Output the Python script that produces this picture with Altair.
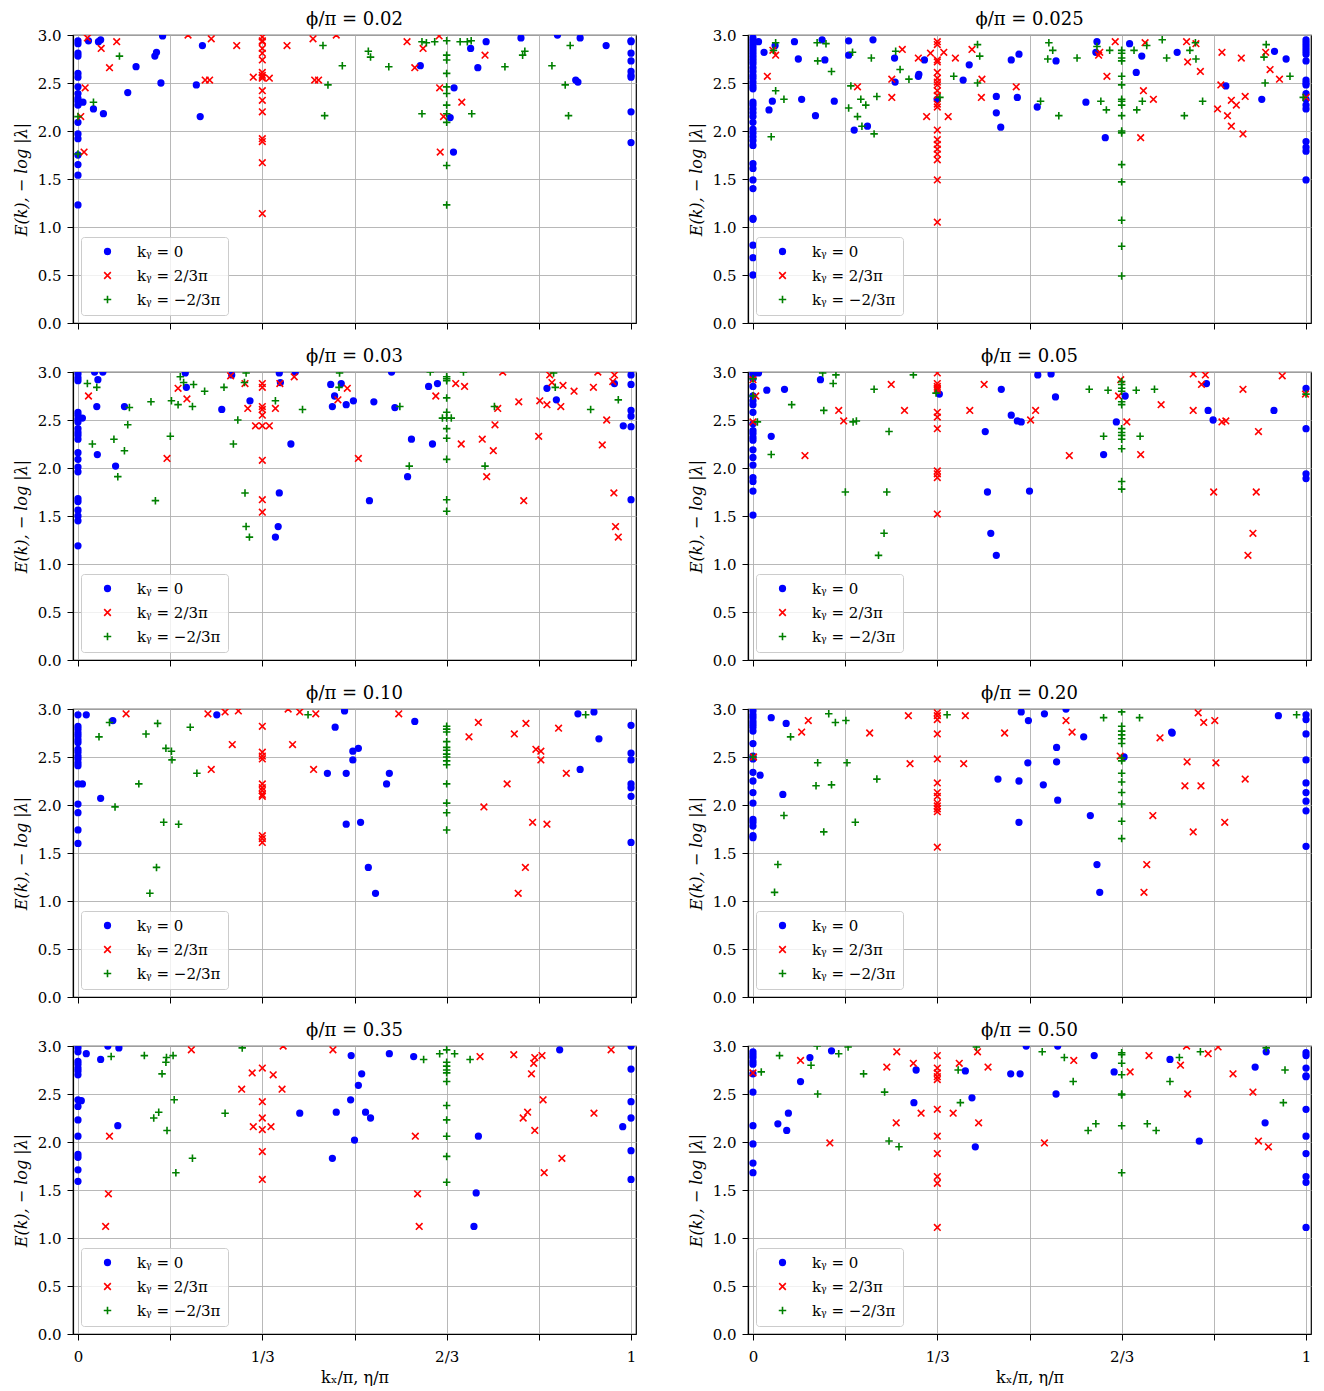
import altair as alt
import pandas as pd

BLUE, RED, GREEN = "#0000ff", "#ff0000", "#008000"
SERIES = ["kᵧ = 0", "kᵧ = 2/3π", "kᵧ = −2/3π"]
X_PATH = "M-1,-1L1,1M-1,1L1,-1"
PLUS_PATH = "M-1,0L1,0M0,-1L0,1"
XTICKS = [0, 1/6, 1/3, 1/2, 2/3, 5/6, 1]
YTICKS = [0, 0.5, 1.0, 1.5, 2.0, 2.5, 3.0]
T = 1/3
TT = 2/3
TITLES = ["ϕ/π = 0.02", "ϕ/π = 0.025", "ϕ/π = 0.03", "ϕ/π = 0.05",
          "ϕ/π = 0.10", "ϕ/π = 0.20", "ϕ/π = 0.35", "ϕ/π = 0.50"]

# ---------------- phi/pi = 0.02 ----------------
P1_B = [(0, 2.94), (0, 2.91), (0, 2.81), (0, 2.78), (0, 2.60), (0, 2.56), (0, 2.46), (0, 2.39), (0, 2.34),
        (0, 2.31), (0, 2.27), (0, 2.09), (0, 1.97), (0, 1.92), (0, 1.75), (0, 1.65), (0, 1.54), (0, 1.23),
        (0.019, 2.94), (0.041, 2.95), (0.037, 2.93), (0.153, 2.99), (0.139, 2.78), (0.142, 2.82), (0.105, 2.67),
        (0.150, 2.50), (0.090, 2.40), (0.009, 2.30), (0.028, 2.23), (0.046, 2.18), (0.225, 2.89), (0.214, 2.48),
        (0.221, 2.15), (0.619, 2.68), (0.680, 2.45), (0.673, 2.14), (0.679, 1.78), (0.710, 2.86), (0.738, 2.93),
        (0.723, 2.66), (0.801, 2.97), (0.867, 3.0), (0.908, 2.97), (0.955, 2.89), (0.900, 2.53), (0.904, 2.51),
        (1, 2.94), (1, 2.93), (1, 2.81), (1, 2.73), (1, 2.62), (1, 2.58), (1, 2.56), (1, 2.20), (1, 1.88)]
P1_R = [(0.017, 2.97), (0.070, 2.93), (0.042, 2.86), (0.057, 2.66), (0.013, 2.45), (0.005, 2.15), (0.011, 1.78),
        (0.199, 3.0), (0.241, 2.96), (0.287, 2.89), (0.230, 2.53), (0.238, 2.53), (0.378, 2.89), (0.425, 2.96),
        (0.467, 3.0), (0.428, 2.53), (0.435, 2.53),
        (T, 2.98), (T, 2.94), (T, 2.93), (T, 2.86), (T, 2.81), (T, 2.74), (T, 2.61), (T, 2.58), (T, 2.56),
        (T, 2.55), (T, 2.42), (T, 2.32), (T, 2.20), (T, 1.92), (T, 1.89), (T, 1.67), (T, 1.14),
        (0.317, 2.56), (0.346, 2.55), (0.595, 2.93), (0.624, 2.86), (0.609, 2.66), (0.653, 2.99), (0.654, 2.45),
        (0.661, 2.15), (0.655, 1.78), (0.694, 2.30), (0.736, 2.79)]
P1_G = [(0.075, 2.78), (0.028, 2.30), (0, 2.15), (0, 1.76), (0.443, 2.89), (0.478, 2.68), (0.452, 2.48),
        (0.446, 2.16), (0.525, 2.83), (0.529, 2.77), (0.562, 2.67), (0.622, 2.18), (0.622, 2.93), (0.630, 2.92),
        (0.645, 2.93),
        (TT, 2.94), (TT, 2.79), (TT, 2.74), (TT, 2.60), (TT, 2.46), (TT, 2.39), (TT, 2.27), (TT, 2.18),
        (TT, 2.09), (TT, 1.64), (TT, 1.23),
        (0.691, 2.93), (0.704, 2.93), (0.711, 2.94), (0.712, 2.18), (0.772, 2.67), (0.804, 2.79), (0.808, 2.83),
        (0.857, 2.68), (0.890, 2.89), (0.881, 2.48), (0.887, 2.16)]

# ---------------- phi/pi = 0.025 ----------------
P2_B = [(0, 2.97), (0, 2.94), (0, 2.91), (0, 2.88), (0, 2.85), (0, 2.82), (0, 2.79), (0, 2.76), (0, 2.73),
        (0, 2.70), (0, 2.66), (0, 2.62), (0, 2.58), (0, 2.55), (0, 2.51), (0, 2.47), (0, 2.44),
        (0, 2.30), (0, 2.27), (0, 2.23), (0, 2.19), (0, 2.15), (0, 2.09), (0, 2.02), (0, 1.98), (0, 1.94),
        (0, 1.90), (0, 1.85), (0, 1.66), (0, 1.61), (0, 1.49), (0, 1.40), (0, 1.09), (0, 1.08), (0, 0.81),
        (0, 0.68), (0, 0.50),
        (0.010, 2.93), (0.020, 2.82), (0.040, 2.89), (0.075, 2.93), (0.125, 2.95), (0.082, 2.75), (0.130, 2.74),
        (0.035, 2.31), (0.029, 2.22), (0.088, 2.33), (0.113, 2.16), (0.147, 2.31), (0.173, 2.94), (0.217, 2.95),
        (0.173, 2.79), (0.256, 2.76), (0.257, 2.51), (0.207, 2.05), (0.183, 2.01), (0.300, 2.59), (0.299, 2.57),
        (0.310, 2.74), (0.333, 2.33), (0.391, 2.69), (0.380, 2.53), (0.440, 2.36), (0.440, 2.19), (0.448, 2.04),
        (0.467, 2.74), (0.481, 2.80), (0.478, 2.35), (0.514, 2.25), (0.548, 2.73), (0.602, 2.30), (0.622, 2.93),
        (0.620, 2.82), (0.637, 1.93), (0.681, 2.91), (0.703, 2.78), (0.693, 2.61), (0.767, 2.82), (0.855, 2.47),
        (0.920, 2.33), (0.943, 2.83), (0.964, 2.75),
        (1, 2.95), (1, 2.92), (1, 2.89), (1, 2.86), (1, 2.83), (1, 2.80), (1, 2.73), (1, 2.53), (1, 2.50),
        (1, 2.48), (1, 2.39), (1, 2.33), (1, 2.27), (1, 2.23), (1, 1.89), (1, 1.83), (1, 1.79), (1, 1.49)]
P2_R = [(0.036, 2.84), (0.041, 2.79), (0.026, 2.57), (0.270, 2.85), (0.299, 2.76), (0.251, 2.54), (0.189, 2.46),
        (0.251, 2.35), (0.314, 2.15), (0.353, 2.15), (0.345, 2.82), (0.366, 2.76), (0.396, 2.85), (0.414, 2.54),
        (0.413, 2.35), (0.476, 2.46), (0.321, 2.81),
        (T, 2.93), (T, 2.90), (T, 2.74), (T, 2.72), (T, 2.61), (T, 2.55), (T, 2.51), (T, 2.48), (T, 2.42),
        (T, 2.37), (T, 2.28), (T, 2.25), (T, 2.01), (T, 1.91), (T, 1.86), (T, 1.81), (T, 1.76), (T, 1.70),
        (T, 1.49), (T, 1.05),
        (0.655, 2.93), (0.627, 2.82), (0.625, 2.79), (0.640, 2.57), (0.709, 2.92), (0.706, 2.42), (0.724, 2.33),
        (0.701, 1.93), (0.784, 2.93), (0.801, 2.91), (0.786, 2.72), (0.809, 2.62), (0.848, 2.82), (0.883, 2.76),
        (0.927, 2.82), (0.935, 2.64), (0.952, 2.54), (0.846, 2.48), (0.865, 2.32), (0.874, 2.27), (0.890, 2.36),
        (0.840, 2.23), (0.858, 2.16), (0.865, 2.05), (0.886, 1.97), (1.0, 2.35)]
P2_G = [(0.041, 2.92), (0.037, 2.84), (0.116, 2.92), (0.132, 2.91), (0.117, 2.73), (0.142, 2.62), (0.041, 2.42),
        (0.056, 2.33), (0.033, 1.94), (0.180, 2.82), (0.177, 2.47), (0.195, 2.33), (0.204, 2.27), (0.173, 2.24),
        (0.189, 2.15), (0.197, 2.05), (0.219, 1.97), (0.224, 2.36), (0.214, 2.76), (0.258, 2.83), (0.266, 2.64),
        (0.282, 2.54), (0.338, 2.35), (0.363, 2.57), (0.406, 2.90), (0.410, 2.78), (0.406, 2.50), (0.535, 2.92),
        (0.542, 2.84), (0.533, 2.75), (0.586, 2.76), (0.520, 2.31), (0.553, 2.16), (0.622, 2.88), (0.645, 2.84),
        (0.629, 2.31), (0.639, 2.22),
        (TT, 2.84), (TT, 2.81), (TT, 2.76), (TT, 2.73), (TT, 2.57), (TT, 2.48), (TT, 2.33), (TT, 2.31),
        (TT, 2.27), (TT, 2.16), (TT, 2.00), (TT, 1.98), (TT, 1.65), (TT, 1.47), (TT, 1.07), (TT, 0.80),
        (TT, 0.49),
        (0.689, 2.84), (0.712, 2.89), (0.740, 2.95), (0.748, 2.76), (0.704, 2.31), (0.694, 2.22), (0.780, 2.16),
        (0.790, 2.84), (0.800, 2.92), (0.801, 2.75), (0.813, 2.31), (0.928, 2.90), (0.924, 2.77), (0.926, 2.50),
        (0.971, 2.57), (0.995, 2.35)]

# ---------------- phi/pi = 0.03 ----------------
P3_B = [(0, 2.98), (0, 2.94), (0, 2.91), (0, 2.58), (0, 2.55), (0, 2.51), (0, 2.48), (0, 2.41), (0, 2.37),
        (0, 2.34), (0, 2.30), (0, 2.16), (0, 2.09), (0, 2.01), (0, 1.96), (0, 1.68), (0, 1.65), (0, 1.56),
        (0, 1.50), (0, 1.45), (0, 1.19),
        (0.008, 2.52), (0.030, 3.0), (0.045, 3.0), (0.036, 2.92), (0.034, 2.64), (0.084, 2.64), (0.035, 2.14),
        (0.068, 2.02), (0.194, 2.99), (0.196, 2.84), (0.278, 2.97), (0.311, 2.70), (0.260, 2.61), (0.364, 2.99),
        (0.366, 2.89), (0.393, 3.0), (0.385, 2.25), (0.364, 1.74), (0.362, 1.39), (0.357, 1.28), (0.457, 2.87),
        (0.476, 2.88), (0.464, 2.75), (0.460, 2.64), (0.485, 2.66), (0.498, 2.70), (0.535, 2.69), (0.573, 2.63),
        (0.567, 3.0), (0.603, 2.30), (0.641, 2.25), (0.596, 1.91), (0.527, 1.66), (0.634, 2.85), (0.650, 2.88),
        (0.848, 2.83), (0.865, 2.71), (0.970, 2.88), (0.986, 2.44),
        (1, 2.97), (1, 2.87), (1, 2.60), (1, 2.54), (1, 2.43), (1, 1.67)]
P3_R = [(0.019, 2.75), (0.181, 2.83), (0.197, 2.72), (0.161, 2.10), (0.276, 2.96), (0.302, 2.88), (0.307, 2.62),
        (0.321, 2.44),
        (T, 2.88), (T, 2.84), (T, 2.64), (T, 2.61), (T, 2.55), (T, 2.44), (T, 2.08), (T, 1.67), (T, 1.54),
        (0.346, 2.44), (0.357, 2.62), (0.365, 2.88), (0.391, 2.95), (0.470, 2.71), (0.487, 2.83), (0.507, 2.10),
        (0.647, 2.75), (0.683, 2.88), (0.699, 2.85), (0.693, 2.25), (0.731, 2.30), (0.751, 2.18), (0.754, 2.45),
        (0.759, 2.62), (0.739, 1.91), (0.768, 3.0), (0.797, 2.69), (0.806, 1.66), (0.833, 2.33), (0.835, 2.70),
        (0.848, 2.66), (0.853, 2.97), (0.857, 2.89), (0.877, 2.86), (0.873, 2.64), (0.897, 2.80), (0.932, 2.84),
        (0.940, 3.0), (0.970, 2.97), (0.967, 2.90), (0.956, 2.50), (0.948, 2.24), (0.969, 1.74), (0.972, 1.39),
        (0.977, 1.28)]
P3_G = [(0.017, 2.88), (0.034, 2.84), (0.026, 2.25), (0.065, 2.30), (0.084, 2.18), (0.090, 2.45), (0.093, 2.63),
        (0.072, 1.91), (0.140, 1.66), (0.132, 2.69), (0.167, 2.33), (0.169, 2.70), (0.181, 2.66), (0.185, 2.95),
        (0.191, 2.89), (0.209, 2.87), (0.207, 2.64), (0.229, 2.80), (0.264, 2.84), (0.304, 2.99), (0.301, 2.89),
        (0.289, 2.50), (0.281, 2.25), (0.302, 1.74), (0.304, 1.39), (0.310, 1.28), (0.357, 2.70), (0.406, 2.61),
        (0.473, 2.99), (0.472, 2.84), (0.582, 2.64), (0.599, 2.02), (0.637, 3.0),
        (TT, 2.95), (TT, 2.93), (TT, 2.91), (TT, 2.73), (TT, 2.58), (TT, 2.52), (TT, 2.41), (TT, 2.31),
        (TT, 2.09), (TT, 1.67), (TT, 1.55),
        (0.659, 2.52), (0.675, 2.52), (0.697, 3.0), (0.736, 2.02), (0.753, 2.64), (0.860, 2.99), (0.863, 2.84),
        (0.927, 2.61), (0.977, 2.71)]

# ---------------- phi/pi = 0.05 ----------------
P4_B = [(0, 2.99), (0, 2.97), (0, 2.93), (0, 2.85), (0, 2.75), (0, 2.70), (0, 2.66), (0, 2.58), (0, 2.46),
        (0, 2.39), (0, 2.36), (0, 2.32), (0, 2.29), (0, 2.19), (0, 2.11), (0, 2.03), (0, 1.90), (0, 1.86),
        (0, 1.76), (0, 1.51),
        (0.010, 2.99), (0.025, 2.81), (0.057, 2.82), (0.033, 2.33), (0.122, 2.92), (0.337, 2.77), (0.449, 2.82),
        (0.515, 2.97), (0.539, 2.98), (0.547, 2.74), (0.467, 2.55), (0.478, 2.49), (0.485, 2.48), (0.420, 2.38),
        (0.424, 1.75), (0.430, 1.32), (0.440, 1.09), (0.500, 1.76), (0.634, 2.14), (0.657, 2.48), (0.673, 2.75),
        (0.820, 2.88), (0.823, 2.60), (0.832, 2.50), (0.942, 2.60),
        (1, 2.83), (1, 2.41), (1, 1.94), (1, 1.89)]
P4_R = [(0, 2.92), (0.005, 2.75), (0, 2.48), (0.094, 2.13), (0.155, 2.60), (0.164, 2.49), (0.250, 2.87),
        (0.274, 2.60),
        (T, 2.99), (T, 2.88), (T, 2.85), (T, 2.83), (T, 2.81), (T, 2.58), (T, 2.53), (T, 2.41), (T, 1.97),
        (T, 1.94), (T, 1.90), (T, 1.52),
        (0.392, 2.60), (0.418, 2.87), (0.511, 2.60), (0.502, 2.50), (0.572, 2.13), (0.665, 2.92), (0.661, 2.75),
        (0.676, 2.48), (0.701, 2.14), (0.738, 2.66), (0.796, 2.98), (0.818, 2.97), (0.811, 2.87), (0.796, 2.60),
        (0.848, 2.48), (0.855, 2.49), (0.886, 2.82), (0.914, 2.38), (0.833, 1.75), (0.910, 1.75), (0.904, 1.32),
        (0.895, 1.09), (0.957, 2.96), (0.999, 2.77)]
P4_G = [(0, 2.75), (0, 2.93), (0.008, 2.48), (0.033, 2.14), (0.070, 2.66), (0.128, 2.60), (0.145, 2.88),
        (0.126, 2.99), (0.150, 2.97), (0.181, 2.48), (0.187, 2.49), (0.219, 2.82), (0.246, 2.38), (0.167, 1.75),
        (0.242, 1.75), (0.237, 1.32), (0.227, 1.09), (0.290, 2.97), (0.331, 2.78), (0.608, 2.82), (0.642, 2.81),
        (0.634, 2.33),
        (TT, 2.90), (TT, 2.87), (TT, 2.83), (TT, 2.80), (TT, 2.69), (TT, 2.66), (TT, 2.41), (TT, 2.37),
        (TT, 2.34), (TT, 2.30), (TT, 2.20), (TT, 1.86), (TT, 1.78),
        (0.693, 2.81), (0.700, 2.33), (0.726, 2.82), (1.0, 2.77)]

# ---------------- phi/pi = 0.10 ----------------
P5_B = [(0, 2.94), (0, 2.82), (0, 2.79), (0, 2.75), (0, 2.72), (0, 2.68), (0, 2.65), (0, 2.58), (0, 2.55),
        (0, 2.51), (0, 2.48), (0, 2.44), (0, 2.41), (0, 2.22), (0, 2.01), (0, 1.92), (0, 1.74), (0, 1.60),
        (0.008, 2.22), (0.015, 2.94), (0.063, 2.88), (0.041, 2.07), (0.251, 2.94), (0.482, 2.98), (0.465, 2.81),
        (0.497, 2.56), (0.507, 2.59), (0.497, 2.47), (0.451, 2.33), (0.485, 2.33), (0.563, 2.33), (0.558, 2.22),
        (0.485, 1.80), (0.511, 1.82), (0.525, 1.35), (0.538, 1.08), (0.609, 2.87), (0.904, 2.95), (0.933, 2.97),
        (0.942, 2.69), (0.908, 2.37),
        (1, 2.83), (1, 2.54), (1, 2.47), (1, 2.22), (1, 2.18), (1, 2.09), (1, 1.61)]
P5_R = [(0.087, 2.95), (0.235, 2.95), (0.266, 2.97), (0.290, 2.98), (0.279, 2.63), (0.241, 2.37),
        (T, 2.82), (T, 2.55), (T, 2.51), (T, 2.48), (T, 2.22), (T, 2.18), (T, 2.15), (T, 2.11), (T, 2.09),
        (T, 1.68), (T, 1.65), (T, 1.61),
        (0.380, 3.0), (0.401, 2.97), (0.430, 2.95), (0.388, 2.63), (0.426, 2.37), (0.580, 2.95), (0.724, 2.86),
        (0.707, 2.71), (0.789, 2.74), (0.810, 2.85), (0.869, 2.80), (0.828, 2.58), (0.837, 2.56), (0.837, 2.47),
        (0.883, 2.33), (0.776, 2.22), (0.734, 1.98), (0.822, 1.82), (0.848, 1.80), (0.809, 1.35), (0.796, 1.08)]
P5_G = [(0.057, 2.86), (0.038, 2.71), (0.144, 2.85), (0.123, 2.74), (0.203, 2.81), (0.159, 2.59), (0.169, 2.56),
        (0.170, 2.47), (0.215, 2.33), (0.110, 2.22), (0.067, 1.98), (0.155, 1.82), (0.182, 1.80), (0.142, 1.35),
        (0.130, 1.08), (0.416, 2.94),
        (TT, 2.82), (TT, 2.79), (TT, 2.76), (TT, 2.66), (TT, 2.60), (TT, 2.57), (TT, 2.53), (TT, 2.50),
        (TT, 2.46), (TT, 2.42), (TT, 2.22), (TT, 2.02), (TT, 1.92), (TT, 1.74),
        (0.918, 2.94)]

# ---------------- phi/pi = 0.20 ----------------
P6_B = [(0, 2.98), (0, 2.94), (0, 2.91), (0, 2.87), (0, 2.84), (0, 2.81), (0, 2.77), (0, 2.64), (0, 2.51),
        (0, 2.48), (0, 2.34), (0, 2.25), (0, 2.13), (0, 2.02), (0, 1.85), (0, 1.82), (0, 1.78), (0, 1.68),
        (0, 1.66),
        (0.013, 2.31), (0.033, 2.91), (0.060, 2.85), (0.054, 2.11), (0.485, 2.97), (0.498, 2.88), (0.527, 2.95),
        (0.566, 3.0), (0.598, 2.71), (0.549, 2.60), (0.497, 2.44), (0.549, 2.45), (0.443, 2.27), (0.481, 2.25),
        (0.525, 2.21), (0.551, 2.05), (0.481, 1.82), (0.610, 1.89), (0.622, 1.38), (0.627, 1.09), (0.671, 2.50),
        (0.758, 2.75), (0.757, 2.76), (0.950, 2.93),
        (1, 2.94), (1, 2.89), (1, 2.74), (1, 2.47), (1, 2.23), (1, 2.13), (1, 2.04), (1, 1.94), (1, 1.57)]
P6_R = [(0.001, 2.50), (0.100, 2.88), (0.088, 2.76), (0.211, 2.75), (0.281, 2.93), (0.284, 2.43),
        (T, 2.96), (T, 2.93), (T, 2.89), (T, 2.74), (T, 2.48), (T, 2.23), (T, 2.13), (T, 2.09), (T, 2.02),
        (T, 1.99), (T, 1.96), (T, 1.93), (T, 1.56),
        (0.384, 2.93), (0.381, 2.43), (0.455, 2.75), (0.566, 2.88), (0.577, 2.76), (0.664, 2.51), (0.736, 2.70),
        (0.805, 2.96), (0.815, 2.86), (0.835, 2.88), (0.785, 2.45), (0.837, 2.44), (0.890, 2.27), (0.781, 2.20),
        (0.810, 2.20), (0.723, 1.89), (0.853, 1.82), (0.796, 1.72), (0.712, 1.38), (0.707, 1.09)]
P6_G = [(0, 2.50), (0.137, 2.95), (0.149, 2.86), (0.168, 2.88), (0.068, 2.71), (0.117, 2.44), (0.170, 2.44),
        (0.224, 2.27), (0.114, 2.20), (0.142, 2.21), (0.056, 1.89), (0.185, 1.82), (0.128, 1.72), (0.045, 1.38),
        (0.039, 1.09), (0.351, 2.94), (0.634, 2.91), (0.699, 2.91), (0.983, 2.94),
        (TT, 2.97), (TT, 2.82), (TT, 2.77), (TT, 2.73), (TT, 2.69), (TT, 2.64), (TT, 2.49), (TT, 2.46),
        (TT, 2.33), (TT, 2.24), (TT, 2.13), (TT, 2.01), (TT, 1.83), (TT, 1.65)]

# ---------------- phi/pi = 0.35 ----------------
P7_B = [(0, 2.98), (0, 2.94), (0, 2.84), (0, 2.81), (0, 2.77), (0, 2.74), (0, 2.70), (0, 2.44), (0, 2.37),
        (0, 2.23), (0, 2.06), (0, 1.87), (0, 1.84), (0, 1.71), (0, 1.59),
        (0.006, 2.43), (0.015, 2.92), (0.054, 3.0), (0.074, 2.98), (0.041, 2.86), (0.072, 2.17), (0.494, 2.90),
        (0.563, 2.92), (0.607, 2.89), (0.513, 2.71), (0.507, 2.59), (0.493, 2.44), (0.401, 2.30), (0.467, 2.31),
        (0.520, 2.31), (0.529, 2.25), (0.500, 2.02), (0.460, 1.83), (0.724, 2.06), (0.720, 1.47), (0.716, 1.12),
        (0.871, 2.96), (0.985, 2.16),
        (1, 3.0), (1, 2.76), (1, 2.42), (1, 2.25), (1, 1.91), (1, 1.61)]
P7_R = [(0.205, 2.96), (0.057, 2.06), (0.055, 1.46), (0.050, 1.12), (0.296, 2.55), (0.315, 2.72), (T, 2.77),
        (0.353, 2.70), (0.369, 2.55), (T, 2.42), (T, 2.25), (0.317, 2.16), (T, 2.13), (0.349, 2.16), (T, 1.90),
        (T, 1.61), (0.371, 3.0), (0.461, 2.96), (0.610, 2.06), (0.614, 1.46), (0.617, 1.12), (0.727, 2.89),
        (0.788, 2.91), (0.826, 2.88), (0.824, 2.82), (0.839, 2.90), (0.820, 2.71), (0.841, 2.44), (0.813, 2.31),
        (0.805, 2.25), (0.826, 2.12), (0.933, 2.30), (0.875, 1.83), (0.843, 1.68), (0.964, 2.96)]
P7_G = [(0.060, 2.89), (0.120, 2.90), (0.160, 2.88), (0.159, 2.83), (0.172, 2.90), (0.152, 2.71), (0.174, 2.44),
        (0.146, 2.31), (0.137, 2.25), (0.161, 2.12), (0.266, 2.30), (0.207, 1.83), (0.177, 1.68), (0.297, 2.98),
        (0.625, 2.86), (0.654, 2.92), (0.681, 2.92), (0.709, 2.86),
        (TT, 2.96), (TT, 2.83), (TT, 2.79), (TT, 2.75), (TT, 2.72), (TT, 2.63), (TT, 2.38), (TT, 2.23),
        (TT, 2.06), (TT, 1.85), (TT, 1.58)]

# ---------------- phi/pi = 0.50 ----------------
P8_B = [(0, 2.94), (0, 2.91), (0, 2.88), (0, 2.84), (0, 2.81), (0, 2.71), (0, 2.52), (0, 2.17), (0, 1.98),
        (0, 1.78), (0, 1.68),
        (0.103, 2.88), (0.142, 2.95), (0.086, 2.63), (0.064, 2.30), (0.045, 2.19), (0.061, 2.12), (0.295, 2.75),
        (0.384, 2.74), (0.466, 2.71), (0.483, 2.71), (0.494, 3.0), (0.551, 3.0), (0.617, 2.90), (0.548, 2.50),
        (0.396, 2.46), (0.291, 2.41), (0.402, 1.95), (0.653, 2.73), (0.754, 2.86), (0.807, 2.01), (0.908, 2.78),
        (0.928, 2.94), (0.926, 2.20),
        (1, 2.93), (1, 2.90), (1, 2.77), (1, 2.69), (1, 2.68), (1, 2.34), (1, 2.06), (1, 1.88), (1, 1.64),
        (1, 1.58), (1, 1.11)]
P8_R = [(0, 2.72), (0.086, 2.85), (0.139, 1.99), (0.260, 2.94), (0.242, 2.78), (0.290, 2.82), (0.259, 2.20),
        (0.304, 2.30),
        (T, 2.90), (T, 2.77), (T, 2.72), (T, 2.68), (T, 2.65), (T, 2.34), (T, 2.06), (T, 1.88), (T, 1.64),
        (T, 1.57), (T, 1.11),
        (0.362, 2.30), (0.373, 2.82), (0.406, 2.94), (0.425, 2.78), (0.408, 2.20), (0.527, 1.99), (0.580, 2.85),
        (0.682, 2.73), (0.716, 2.90), (0.773, 2.80), (0.784, 3.0), (0.823, 2.92), (0.841, 2.99), (0.786, 2.50),
        (0.868, 2.71), (0.904, 2.52), (0.914, 2.01), (0.932, 1.95)]
P8_G = [(0.015, 2.73), (0.048, 2.90), (0.105, 2.80), (0.116, 3.0), (0.155, 2.92), (0.172, 2.99), (0.117, 2.50),
        (0.200, 2.71), (0.238, 2.52), (0.246, 2.01), (0.264, 1.95), (0.371, 2.75), (0.375, 2.41), (0.404, 2.99),
        (0.523, 2.94), (0.563, 2.88), (0.579, 2.63), (0.606, 2.12), (0.620, 2.19),
        (TT, 2.93), (TT, 2.91), (TT, 2.82), (TT, 2.70), (TT, 2.50), (TT, 2.49), (TT, 2.17), (TT, 1.68),
        (0.713, 2.19), (0.729, 2.12), (0.754, 2.63), (0.771, 2.88), (0.809, 2.94), (0.928, 2.98), (0.962, 2.75),
        (0.959, 2.41)]

PANELS = [(P1_B, P1_R, P1_G), (P2_B, P2_R, P2_G), (P3_B, P3_R, P3_G), (P4_B, P4_R, P4_G),
          (P5_B, P5_R, P5_G), (P6_B, P6_R, P6_G), (P7_B, P7_R, P7_G), (P8_B, P8_R, P8_G)]

FONT = "DejaVu Serif"
LABEL_EXPR = ("abs(datum.value) < 0.001 ? '0' : abs(datum.value - 1/3) < 0.001 ? '1/3' : "
              "abs(datum.value - 2/3) < 0.001 ? '2/3' : abs(datum.value - 1) < 0.001 ? '1' : ''")

legend = alt.Legend(title=None, orient="bottom-left", offset=8, fillColor="rgba(255,255,255,0.8)",
                    strokeColor="#cccccc", cornerRadius=3, padding=7, labelFont=FONT, labelFontSize=15,
                    labelColor="black", symbolStrokeWidth=1.6, rowPadding=8, labelOffset=22, symbolOffset=12)


def panel(idx, bottom):
    b, r, g = PANELS[idx]
    rows = ([(x, y, SERIES[0]) for x, y in b] + [(x, y, SERIES[1]) for x, y in r]
            + [(x, y, SERIES[2]) for x, y in g])
    df = pd.DataFrame(rows, columns=["x", "y", "s"])
    df["order"] = range(len(df))
    if bottom:
        xaxis = alt.Axis(values=XTICKS, labelExpr=LABEL_EXPR, title="kₓ/π, η/π", labelOverlap=False,
                         labelFlush=False, labelPadding=9, titlePadding=5)
    else:
        xaxis = alt.Axis(values=XTICKS, labels=False, title=None)
    yaxis = alt.Axis(values=YTICKS, format=".1f", title="E(k), − log |λ|", labelFlush=False,
                     labelPadding=6, titlePadding=8)
    cdom = alt.Scale(domain=SERIES, range=[BLUE, RED, GREEN])
    return alt.Chart(df).mark_point(filled=True, strokeWidth=1.6, opacity=1, clip=True).encode(
        x=alt.X("x:Q", scale=alt.Scale(domain=[-0.009, 1.009], nice=False, zero=False), axis=xaxis),
        y=alt.Y("y:Q", scale=alt.Scale(domain=[0, 3], nice=False, zero=False), axis=yaxis),
        fill=alt.Fill("s:N", scale=cdom, legend=legend),
        stroke=alt.Stroke("s:N", scale=cdom, legend=legend),
        shape=alt.Shape("s:N", scale=alt.Scale(domain=SERIES, range=["circle", X_PATH, PLUS_PATH]),
                        legend=legend),
        size=alt.Size("s:N", scale=alt.Scale(domain=SERIES, range=[32, 56, 56]), legend=legend),
        order=alt.Order("order:Q"),
    ).properties(width=563, height=288,
                 title=alt.TitleParams(TITLES[idx], font=FONT, fontSize=18, fontWeight="normal",
                                       color="black", offset=-1))


IND = dict(fill="independent", stroke="independent", shape="independent", size="independent")

rows = []
for rr in range(4):
    row = alt.hconcat(panel(2 * rr, rr == 3), panel(2 * rr + 1, rr == 3), spacing=50)
    row = row.resolve_scale(**IND).resolve_legend(**IND)
    rows.append(row)

chart = alt.vconcat(*rows, spacing=15).resolve_scale(**IND).resolve_legend(**IND).properties(
    padding={"left": 4, "top": 2, "right": 2, "bottom": 0}
).configure_view(stroke="black", strokeWidth=1.2).configure_axis(
    domainColor="black", domainWidth=1.2, tickColor="black", tickSize=6, tickWidth=1,
    gridColor="#b0b0b0", gridWidth=0.9, labelFont=FONT, labelFontSize=15, labelColor="black",
    titleFont=FONT, titleFontSize=16, titleColor="black", titleFontWeight="normal"
).configure_axisY(titleFontStyle="italic")

chart.save("out.html", embed_options={"renderer": "svg", "actions": False})
